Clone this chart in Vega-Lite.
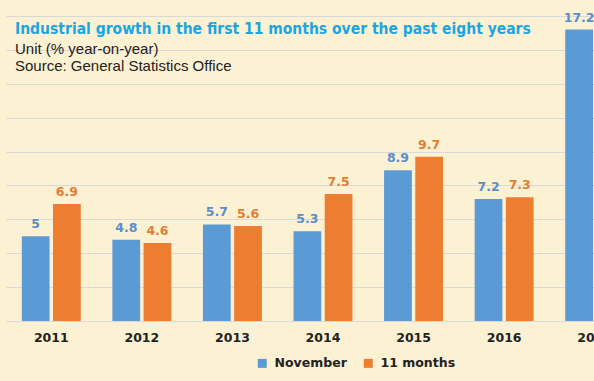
{
  "$schema": "https://vega.github.io/schema/vega-lite/v6.json",
  "autosize": "none",
  "width": 588,
  "height": 305,
  "padding": {"left": 6, "top": 16, "right": 0, "bottom": 60},
  "background": "#FDF1D3",
  "title": {
    "text": "Industrial growth in the first 11 months over the past eight years",
    "subtitle": ["Unit (% year-on-year)", "Source: General Statistics Office"],
    "anchor": "start",
    "orient": "top",
    "frame": "group",
    "offset": -62,
    "dx": 9,
    "font": "DejaVu Sans Condensed",
    "fontWeight": "bold",
    "fontSize": 15.5,
    "color": "#1CA5DF",
    "subtitleFont": "Liberation Sans",
    "subtitleFontSize": 15,
    "subtitleColor": "#222222",
    "subtitleLineHeight": 17,
    "subtitlePadding": 4
  },
  "config": {
    "view": {"stroke": null},
    "axis": {"grid": false}
  },
  "data": {
    "values": [
      {"year": "2011", "series": "November", "value": 5},
      {"year": "2011", "series": "11 months", "value": 6.9},
      {"year": "2012", "series": "November", "value": 4.8},
      {"year": "2012", "series": "11 months", "value": 4.6},
      {"year": "2013", "series": "November", "value": 5.7},
      {"year": "2013", "series": "11 months", "value": 5.6},
      {"year": "2014", "series": "November", "value": 5.3},
      {"year": "2014", "series": "11 months", "value": 7.5},
      {"year": "2015", "series": "November", "value": 8.9},
      {"year": "2015", "series": "11 months", "value": 9.7},
      {"year": "2016", "series": "November", "value": 7.2},
      {"year": "2016", "series": "11 months", "value": 7.3},
      {"year": "2017", "series": "November", "value": 17.2}
    ]
  },
  "encoding": {
    "x": {
      "field": "year",
      "type": "nominal",
      "sort": null,
      "scale": {"range": [0, 634], "paddingInner": 0.349, "paddingOuter": 0.1745},
      "axis": {
        "title": null,
        "labelAngle": 0,
        "labelFont": "DejaVu Sans",
        "labelFontWeight": "bold",
        "labelFontSize": 12.5,
        "labelColor": "#222222",
        "labelPadding": 10,
        "ticks": false,
        "domainColor": "#D9D9D9",
        "domainWidth": 1
      }
    },
    "xOffset": {
      "field": "series",
      "type": "nominal",
      "sort": ["November", "11 months"],
      "scale": {"paddingInner": 0.11, "paddingOuter": 0}
    },
    "y": {
      "field": "value",
      "type": "quantitative",
      "scale": {"domain": [0, 18], "nice": false},
      "axis": {
        "title": null,
        "values": [0, 2, 4, 6, 8, 10, 12, 14, 16, 18],
        "grid": true,
        "gridColor": "#D9D9D9",
        "gridWidth": 1,
        "labels": false,
        "ticks": false,
        "domain": false
      }
    }
  },
  "layer": [
    {
      "mark": {"type": "bar"},
      "encoding": {
        "color": {
          "field": "series",
          "type": "nominal",
          "sort": ["November", "11 months"],
          "scale": {"domain": ["November", "11 months"], "range": ["#5B9BD5", "#ED7D31"]},
          "legend": {
            "title": null,
            "orient": "none",
            "legendX": 250,
            "legendY": 341,
            "direction": "horizontal",
            "symbolType": "square",
            "symbolSize": 81,
            "symbolStrokeWidth": 0,
            "symbolOpacity": 1,
            "labelFont": "DejaVu Sans",
            "labelFontWeight": "bold",
            "labelFontSize": 12.5,
            "labelColor": "#222222",
            "labelOffset": 6,
            "columnPadding": 15
          }
        }
      }
    },
    {
      "mark": {"type": "text", "baseline": "alphabetic", "dy": -8, "font": "DejaVu Sans", "fontWeight": "bold", "fontSize": 12.5},
      "encoding": {
        "text": {"field": "value", "type": "quantitative"},
        "color": {
          "field": "series",
          "type": "nominal",
          "scale": {"domain": ["November", "11 months"], "range": ["#5A8EC7", "#E17E36"]},
          "legend": null
        }
      }
    }
  ],
  "resolve": {"scale": {"color": "independent"}}
}
